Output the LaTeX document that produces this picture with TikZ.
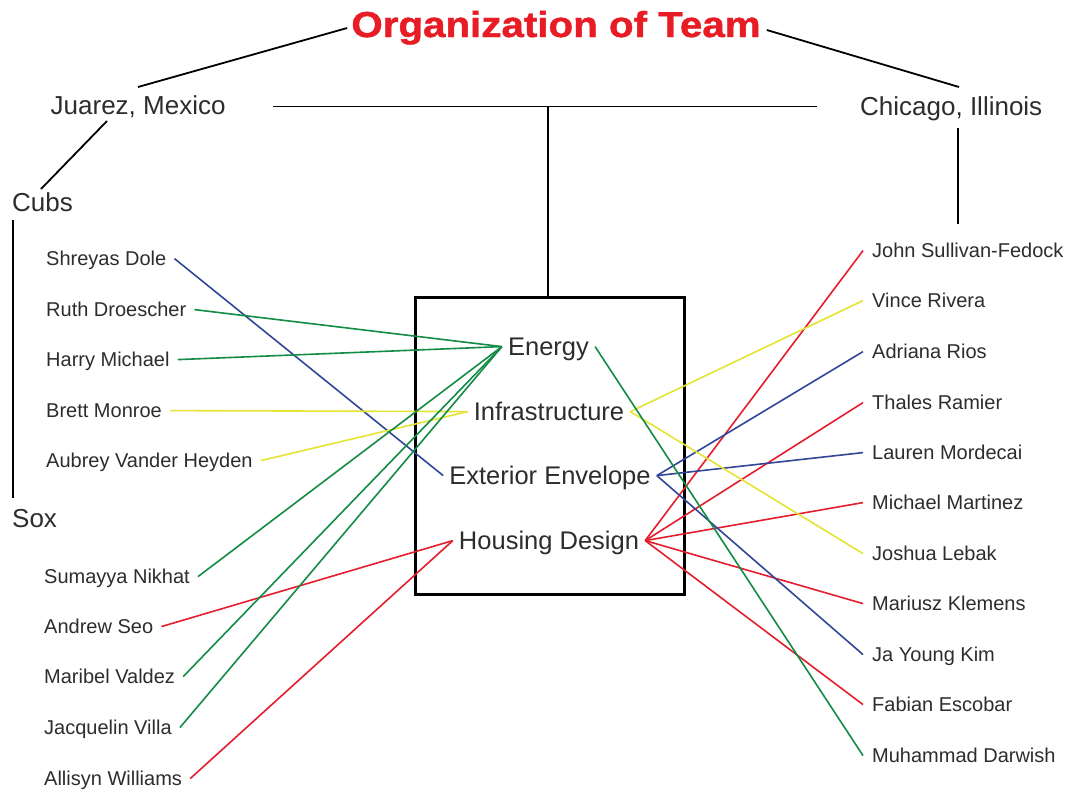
\documentclass[tikz,border=0pt]{standalone}
\usepackage{fontspec}
\setmainfont{Liberation Sans}
\newfontfamily\titlefont{Liberation Sans Bold}[FakeStretch=1.12, FakeBold=1.2]
\usetikzlibrary{calc}
\definecolor{txt}{RGB}{45,45,45}
\definecolor{tred}{RGB}{232,28,36}
\definecolor{lgreen}{RGB}{20,140,70}
\definecolor{lblue}{RGB}{50,70,150}
\definecolor{lred}{RGB}{228,30,45}
\definecolor{lyellow}{RGB}{228,228,50}
\tikzset{
  lname/.style={anchor=base west, font=\fontsize{20}{24}\selectfont, text=txt, inner xsep=8pt, inner ysep=0pt, text height=12.8pt, text depth=0pt},
  rname/.style={anchor=base west, font=\fontsize{20}{24}\selectfont, text=txt, inner xsep=9pt, inner ysep=0pt, text height=12.8pt, text depth=0pt},
  topic/.style={anchor=base, font=\fontsize{25.5}{30}\selectfont, text=txt, inner xsep=6pt, inner ysep=0pt, text height=16.8pt, text depth=0pt},
  place/.style={anchor=base west, font=\fontsize{26}{30}\selectfont, text=txt, inner sep=0pt},
  ttl/.style={anchor=base, font=\fontsize{36}{42}\titlefont, text=tred, inner xsep=6pt, inner ysep=0pt},
  tree/.style={draw=black, line width=1.8pt},
  lk/.style={line width=1.6pt},
  grn/.style={lk, draw=lgreen},
  blu/.style={lk, draw=lblue},
  rd/.style={lk, draw=lred},
  yel/.style={lk, draw=lyellow},
}
\begin{document}
\begin{tikzpicture}[x=1pt,y=-1pt]
\useasboundingbox[fill=white] (0,0) rectangle (1071,790);

% title and places
\node[ttl] (title) at (556,37) {Organization of Team};
\node[place] (juarez) at (50.5,114) {Juarez, Mexico};
\node[place] (chicago) at (860,115) {Chicago, Illinois};
\node[place] (cubs) at (12,211) {Cubs};
\node[place] (sox) at (12,527) {Sox};

% box
\node[draw=black, line width=3pt, inner sep=0pt, minimum width=269pt, minimum height=297pt] (box) at (549.5,445.5) {};

% topics
\node[topic] (energy) at (548.5,355) {Energy};
\node[topic] (infra) at (549,420) {Infrastructure};
\node[topic] (exterior) at (550,484) {Exterior Envelope};
\node[topic] (housing) at (549,549) {Housing Design};

% left names (Cubs)
\node[lname] (shreyas) at (38,265) {Shreyas Dole};
\node[lname] (ruth) at (38,316) {Ruth Droescher};
\node[lname] (harry) at (38,366) {Harry Michael};
\node[lname] (brett) at (38,417) {Brett Monroe};
\node[lname] (aubrey) at (38,467) {Aubrey Vander Heyden};
% left names (Sox)
\node[lname] (sumayya) at (36,583) {Sumayya Nikhat};
\node[lname] (andrew) at (36,633) {Andrew Seo};
\node[lname] (maribel) at (36,683) {Maribel Valdez};
\node[lname] (jacquelin) at (36,734) {Jacquelin Villa};
\node[lname] (allisyn) at (36,785) {Allisyn Williams};

% right names
\node[rname] (john) at (863,257) {John Sullivan-Fedock};
\node[rname] (vince) at (863,307) {Vince Rivera};
\node[rname] (adriana) at (863,358) {Adriana Rios};
\node[rname] (thales) at (863,409) {Thales Ramier};
\node[rname] (lauren) at (863,459) {Lauren Mordecai};
\node[rname] (michael) at (863,509) {Michael Martinez};
\node[rname] (joshua) at (863,560) {Joshua Lebak};
\node[rname] (mariusz) at (863,610) {Mariusz Klemens};
\node[rname] (jayoung) at (863,661) {Ja Young Kim};
\node[rname] (fabian) at (863,711) {Fabian Escobar};
\node[rname] (muhammad) at (863,762) {Muhammad Darwish};

% tree coordinates
\coordinate (jtop) at (138,87);
\coordinate (ctop) at (959,87);
\coordinate (hl) at (273,106.5);
\coordinate (hr) at (817,106.5);
\coordinate (hm) at (548,106.5);
\coordinate (jbot) at (107,121);
\coordinate (cubstop) at (41,189);
\coordinate (cv1) at (13,220);
\coordinate (cv2) at (13,498);
\coordinate (chv1) at (958,128);
\coordinate (chv2) at (958,224);

% tree lines
\draw[tree] ($(title.base west)+(2,-9)$) -- (jtop);
\draw[tree] ($(title.base east)+(0,-7)$) -- (ctop);
\draw[tree] (hl) -- (hr);
\draw[tree] (hm) -- (hm |- box.north);
\draw[tree] (jbot) -- (cubstop);
\draw[tree] (cv1) -- (cv2);
\draw[tree] (chv1) -- (chv2);

% left connectors
\draw[blu] (shreyas.east) -- (exterior.west);
\draw[grn] (ruth.east) -- (energy.west);
\draw[grn] (harry.east) -- (energy.west);
\draw[yel] (brett.east) -- (infra.west);
\draw[yel] (aubrey.east) -- (infra.west);
\draw[grn] (sumayya.east) -- (energy.west);
\draw[rd] (andrew.east) -- (housing.west);
\draw[grn] (maribel.east) -- (energy.west);
\draw[grn] (jacquelin.east) -- (energy.west);
\draw[rd] (allisyn.east) -- (housing.west);

% right connectors
\draw[rd] (housing.east) -- (john.west);
\draw[yel] (infra.east) -- (vince.west);
\draw[blu] (exterior.east) -- (adriana.west);
\draw[rd] (housing.east) -- (thales.west);
\draw[blu] (exterior.east) -- (lauren.west);
\draw[rd] (housing.east) -- (michael.west);
\draw[yel] (infra.east) -- (joshua.west);
\draw[rd] (housing.east) -- (mariusz.west);
\draw[blu] (exterior.east) -- (jayoung.west);
\draw[rd] (housing.east) -- (fabian.west);
\draw[grn] (energy.east) -- (muhammad.west);
\end{tikzpicture}
\end{document}
